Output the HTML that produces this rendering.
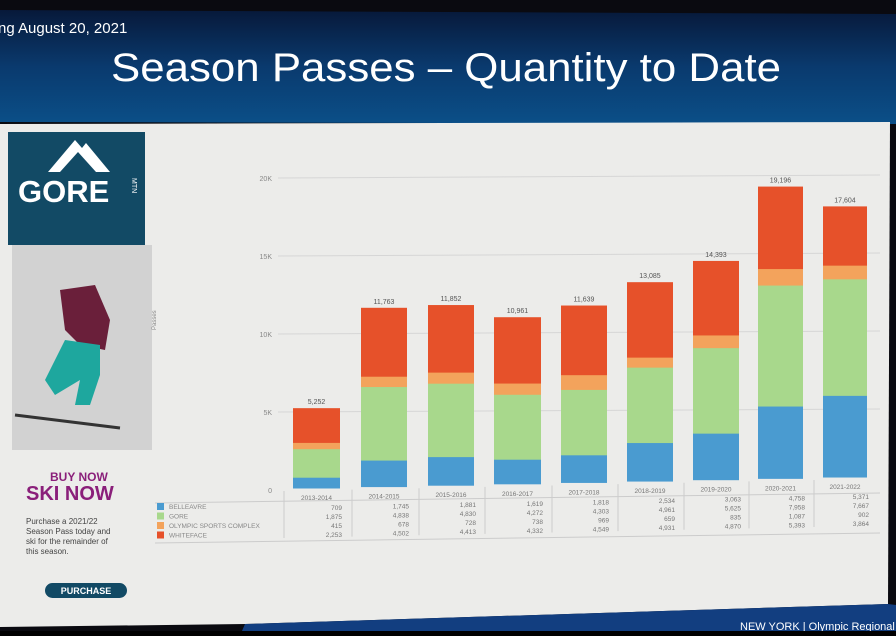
<!DOCTYPE html>
<html><head><meta charset="utf-8"><style>
html,body{margin:0;padding:0;background:#000;}
body{width:896px;height:631px;overflow:hidden;position:relative;font-family:"Liberation Sans",sans-serif;}
</style></head><body>
<svg id="s" width="896" height="631" xmlns="http://www.w3.org/2000/svg">
<defs>
<linearGradient id="bn" x1="0" y1="0" x2="0" y2="1">
<stop offset="0" stop-color="#07193a"/><stop offset="0.5" stop-color="#0a3a6e"/><stop offset="1" stop-color="#0b4f88"/>
</linearGradient>
</defs>
<rect x="0" y="0" width="896" height="631" fill="#0a0a10"/>
<polygon points="0,10 896,14 896,124 0,122" fill="url(#bn)"/>
<text x="-2" y="33" fill="#fff" font-size="15">ng August 20, 2021</text>
<text x="111" y="81" fill="#fff" font-size="40" textLength="670" lengthAdjust="spacingAndGlyphs">Season Passes – Quantity to Date</text>
<polygon points="0,124 890,122 888,604 245,624 0,627" fill="#ececea"/>
<polygon points="245,624 888,604 896,605 896,631 242,631" fill="#123e80"/>
<text x="740" y="630" fill="#fff" font-size="11">NEW YORK | Olympic Regional</text>
<!-- Ad -->
<rect x="8" y="132" width="137" height="113" fill="#124a65"/>
<polygon points="48,172 75,140 82,148 86,143 110,172" fill="#fff"/>
<polygon points="60,172 78,152 96,172" fill="#124a65"/>
<text x="18" y="202" fill="#fff" font-size="31" font-weight="bold">GORE</text>
<text x="132" y="178" fill="#fff" font-size="7" transform="rotate(90 132 178)">MTN</text>
<rect x="12" y="245" width="140" height="205" fill="#d2d2d2"/>
<path d="M60,290 L95,285 L110,320 L105,350 L80,345 L65,330 Z" fill="#6a1f3a"/>
<path d="M65,340 L100,345 L100,375 L90,405 L75,405 L80,380 L55,395 L45,380 Z" fill="#1ea79e"/>
<line x1="15" y1="415" x2="120" y2="428" stroke="#333" stroke-width="3"/>
<text x="50" y="481" fill="#8a1f7a" font-size="12" font-weight="bold">BUY NOW</text>
<text x="26" y="500" fill="#8a1f7a" font-size="20" font-weight="bold">SKI NOW</text>
<text x="26" y="524" fill="#444" font-size="8">Purchase a 2021/22</text>
<text x="26" y="534" fill="#444" font-size="8">Season Pass today and</text>
<text x="26" y="544" fill="#444" font-size="8">ski for the remainder of</text>
<text x="26" y="554" fill="#444" font-size="8">this season.</text>
<rect x="45" y="583" width="82" height="15" rx="7.5" fill="#124a65"/>
<text x="86" y="594" fill="#fff" font-size="9" font-weight="bold" text-anchor="middle">PURCHASE</text>
<text x="156" y="330" fill="#888" font-size="6" transform="rotate(-90 156 330)">Passes</text>
<g id="g"></g>
</svg>
<script>
var g=document.getElementById('g'),h='';
var ticks=[[0,490],[5,412],[10,334],[15,256],[20,178]];
ticks.forEach(function(t){h+='<text x="272" y="'+(t[1]+3)+'" fill="#888" font-size="7" text-anchor="end">'+(t[0]?t[0]+'K':'0')+'</text>';
if(t[0])h+='<line x1="278" y1="'+t[1]+'" x2="880" y2="'+(t[1]-3)+'" stroke="#d6d6d6" stroke-width="1"/>';});
var xs=[[293,340],[361,407],[428,474],[494,541],[561,607],[627,673],[693,739],[758,803],[823,867]];
var d=[[709,1875,415,2253,'5,252'],[1745,4838,678,4502,'11,763'],[1881,4830,728,4413,'11,852'],[1619,4272,738,4332,'10,961'],[1818,4303,969,4549,'11,639'],[2534,4961,659,4931,'13,085'],[3063,5625,835,4870,'14,393'],[4758,7958,1087,5393,'19,196'],[5371,7667,902,3864,'17,604']];
var yrs=['2013-2014','2014-2015','2015-2016','2016-2017','2017-2018','2018-2019','2019-2020','2020-2021','2021-2022'];
var cols=['#4a9bd0','#a8d88c','#f3a35c','#e6512a'];
var sc=0.0152;
d.forEach(function(r,i){var x0=xs[i][0],w=xs[i][1]-x0,cx=x0+w/2;var base=488-(cx-316)*11/530;var y=base;
for(var k=0;k<4;k++){var hh=r[k]*sc;h+='<rect x="'+x0+'" y="'+(y-hh)+'" width="'+w+'" height="'+(hh+0.5)+'" fill="'+cols[k]+'"/>';y-=hh;}
h+='<text x="'+cx+'" y="'+(y-4)+'" fill="#555" font-size="7" text-anchor="middle">'+r[4]+'</text>';
var ty=base+12;
h+='<text x="'+cx+'" y="'+(ty)+'" fill="#777" font-size="6.5" text-anchor="middle">'+yrs[i]+'</text>';
for(var k=0;k<4;k++){h+='<text x="'+(xs[i][1]+2)+'" y="'+(ty+10+k*9)+'" fill="#777" font-size="6.5" text-anchor="end">'+r[k].toLocaleString('en-US')+'</text>';}
h+='<line x1="'+(x0-9)+'" y1="'+(base+3)+'" x2="'+(x0-9)+'" y2="'+(base+50)+'" stroke="#ccc"/>';
});
h+='<line x1="155" y1="503" x2="880" y2="493" stroke="#ccc"/><line x1="155" y1="543" x2="880" y2="533" stroke="#ccc"/>';
var names=['BELLEAVRE','GORE','OLYMPIC SPORTS COMPLEX','WHITEFACE'];
names.forEach(function(n,k){var yy=509+k*9.5;h+='<rect x="157" y="'+(yy-6)+'" width="7" height="7" fill="'+cols[k]+'"/><text x="169" y="'+yy+'" fill="#888" font-size="6.5">'+n+'</text>';});
g.innerHTML=h;
</script>
</body></html>
